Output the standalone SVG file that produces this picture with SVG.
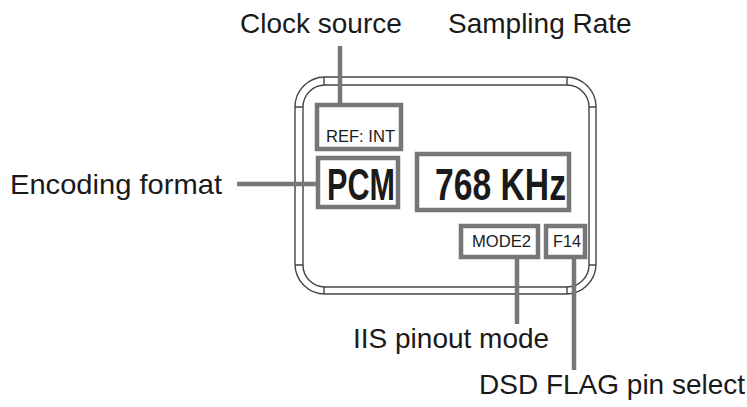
<svg xmlns="http://www.w3.org/2000/svg" width="747" height="407" viewBox="0 0 747 407">
<style>
.lbl{font-family:"Liberation Sans",Arial,sans-serif;font-size:28px;fill:#1a1a1a}
.small{font-family:"Liberation Sans",Arial,sans-serif;font-size:16px;fill:#1a1a1a}
.big{font-family:"Liberation Sans",Arial,sans-serif;font-size:45px;font-weight:bold;fill:#1a1a1a}
.box{fill:#fff;stroke:#777;stroke-width:4.5}
.bezel{fill:none;stroke:#444;stroke-width:1.4}
.conn{stroke:#777;stroke-width:4.5;fill:none}
</style>
<rect width="747" height="407" fill="#fff"/>
<g id="display-frame">
<rect class="bezel" x="295" y="77" width="301" height="217" rx="30" ry="30"/>
<rect class="bezel" x="303" y="85" width="286" height="202" rx="22" ry="22"/>
<path class="bezel" d="M324 77V85M567 77V85M324 287V294M567 287V294M295 107H303M589 107H596M295 265H303M589 265H596"/>
</g>
<g id="connectors">
<line class="conn" x1="340" y1="46" x2="340" y2="105"/>
<line class="conn" x1="237" y1="184" x2="318" y2="184"/>
<line class="conn" x1="517" y1="257" x2="517" y2="324"/>
<line class="conn" x1="574" y1="257" x2="574" y2="370"/>
</g>
<g id="clock-source-label"><text class="lbl" x="240" y="33">Clock source</text></g>
<g id="sampling-rate-label"><text class="lbl" x="448" y="33">Sampling Rate</text></g>
<g id="encoding-format-label"><text class="lbl" x="10" y="194" textLength="212" lengthAdjust="spacingAndGlyphs">Encoding format</text></g>
<g id="iis-label"><text class="lbl" x="353" y="348">IIS pinout mode</text></g>
<g id="dsd-label"><text class="lbl" x="479" y="394">DSD FLAG pin select</text></g>
<g id="ref-box">
<rect class="box" x="317" y="105" width="84" height="44"/>
<text class="small" x="326" y="142" textLength="69" lengthAdjust="spacingAndGlyphs">REF: INT</text>
</g>
<g id="pcm-box">
<rect class="box" x="318" y="158" width="80" height="49"/>
<text class="big" x="327" y="200" textLength="68" lengthAdjust="spacingAndGlyphs">PCM</text>
</g>
<g id="rate-box">
<rect class="box" x="417" y="154" width="152" height="56"/>
<text class="big" x="435" y="200" textLength="131" lengthAdjust="spacingAndGlyphs">768 KHz</text>
</g>
<g id="mode-box">
<rect class="box" x="461" y="226" width="77" height="31"/>
<text class="small" x="472" y="247" textLength="59" lengthAdjust="spacingAndGlyphs">MODE2</text>
</g>
<g id="flag-box">
<rect class="box" x="546" y="226" width="39" height="31"/>
<text class="small" x="553" y="247" textLength="28" lengthAdjust="spacingAndGlyphs">F14</text>
</g>
</svg>
